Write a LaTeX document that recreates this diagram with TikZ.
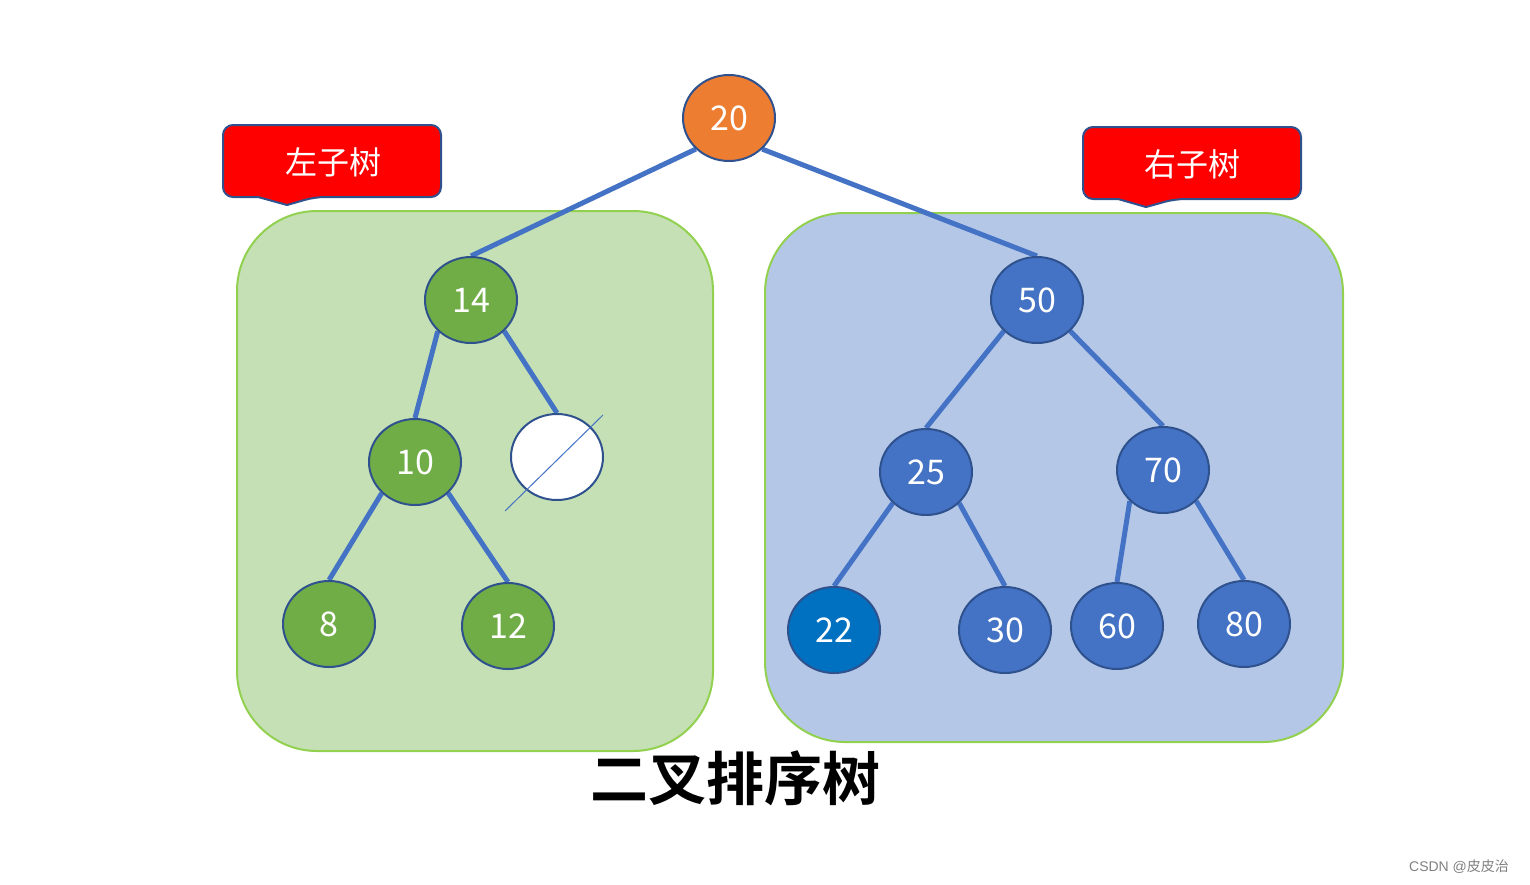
\documentclass[tikz,border=0pt]{standalone}
\usepackage{fontspec}
\setmainfont{Carlito}
\newfontfamily\cjk[BoldFont={Noto Sans CJK SC Bold}]{Noto Sans CJK SC}
\newfontfamily\wm{Liberation Sans}
\usepackage{xcolor}
\usepackage{tikz}
\usetikzlibrary{shapes,positioning,calc}
\pgfdeclarelayer{back}
\pgfdeclarelayer{bg}
\pgfsetlayers{back,bg,main}
\definecolor{rootorange}{HTML}{ED7D31}
\definecolor{leafgreen}{HTML}{70AD47}
\definecolor{leafblue}{HTML}{4472C4}
\definecolor{deepblue}{HTML}{0070C0}
\definecolor{rimblue}{HTML}{2F528F}
\definecolor{boxgreen}{HTML}{C5E0B4}
\definecolor{boxblue}{HTML}{B4C7E7}
\definecolor{boxrim}{HTML}{92D050}
\tikzset{
  tnode/.style = {ellipse, draw = rimblue, line width = 1pt, minimum width = 46pt,
    minimum height = 43pt, inner sep = 0pt, text = white, font = \cjk\fontsize{17}{17}\selectfont},
  edge/.style = {line width = 2.5pt, leafblue},
  tag/.style = {fill = red, draw = rimblue, line width = 1pt, rounded corners = 5pt}
}

\begin{document}
\begin{tikzpicture}[x = .5pt, y = -.5pt]
\useasboundingbox (0,0) rectangle (1530,884);
% the two subtrees
\begin{pgfonlayer}{back}
\draw[fill = boxgreen, draw = boxrim, line width = 1pt, rounded corners = 40pt] (237,211) rectangle (713,751);
\draw[fill = boxblue, draw = boxrim, line width = 1pt, rounded corners = 40pt] (765,213) rectangle (1343,742);
\end{pgfonlayer}
% labels
\draw[tag] (223,161) -- (223,125) -- (441,125) -- (441,197) -- (315,197) [sharp corners] -- (287,205) -- (258,197) [rounded corners = 5pt] -- (223,197) -- cycle;
\node[text = white, font = \cjk\fontsize{16}{16}\selectfont] (ltag) at (333,162) {左子树};
\draw[tag] (1083,163) -- (1083,127) -- (1301,127) -- (1301,199) -- (1175,199) [sharp corners] -- (1146,207) -- (1118,199) [rounded corners = 5pt] -- (1083,199) -- cycle;
\node[text = white, font = \cjk\fontsize{16}{16}\selectfont] (rtag) at (1192,164) {右子树};
% nodes
\node[tnode, fill = rootorange] (n20) at (729,118) {20};
\node[tnode, fill = leafgreen] (n14) at (471,300) {14};
\node[tnode, fill = leafgreen] (n10) at (415,462) {10};
\node[tnode, fill = white] (nil) at (557,457) {};
\node[tnode, fill = leafgreen] (n8) at (329,624) {8};
\node[tnode, fill = leafgreen] (n12) at (508,626) {12};
\node[tnode, fill = leafblue] (n50) at (1037,300) {50};
\node[tnode, fill = leafblue] (n25) at (926,472) {25};
\node[tnode, fill = leafblue] (n70) at (1163,470) {70};
\node[tnode, fill = deepblue] (n22) at (834,630) {22};
\node[tnode, fill = leafblue] (n30) at (1005,630) {30};
\node[tnode, fill = leafblue] (n60) at (1117,626) {60};
\node[tnode, fill = leafblue] (n80) at (1244,624) {80};
\coordinate (nilsw) at (505,511);
\coordinate (nilne) at (603,415);
\draw[leafblue, line width = .5pt] (nilsw) -- (nilne);
% edges
\begin{pgfonlayer}{bg}
\draw[edge] (n20.south west) -- (n14.north);
\draw[edge] (n20.south east) -- (n50.north);
\draw[edge] (n14.south west) -- (n10.north);
\draw[edge] (n14.south east) -- (nil.north);
\draw[edge] (n10.south west) -- (n8.north);
\draw[edge] (n10.south east) -- (n12.north);
\draw[edge] (n50.south west) -- (n25.north);
\draw[edge] (n50.south east) -- (n70.north);
\draw[edge] (n25.south west) -- (n22.north);
\draw[edge] (n25.south east) -- (n30.north);
\draw[edge] (n70.south west) -- (n60.north);
\draw[edge] (n70.south east) -- (n80.north);
\end{pgfonlayer}
% title and mark
\node[font = \cjk\bfseries\fontsize{29}{29}\selectfont] (title) at (735,778) {二叉排序树};
\node[anchor = east, text = gray, font = \wm\fontsize{7}{7}\selectfont] (mark) at (1516,867) {CSDN @{\cjk 皮皮治}};
\end{tikzpicture}
\end{document}
